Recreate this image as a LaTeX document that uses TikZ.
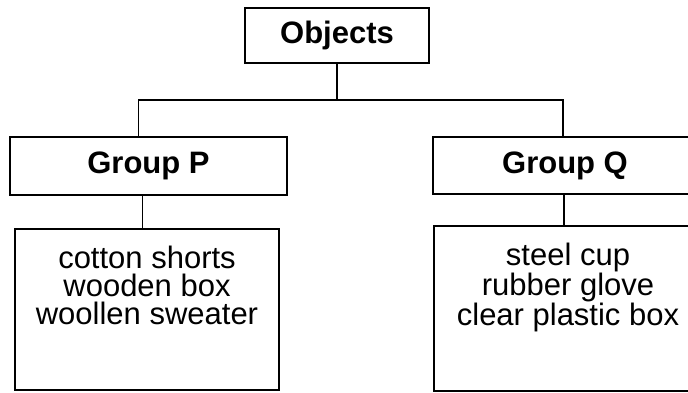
\documentclass[tikz,border=0pt]{standalone}
\usepackage{fontspec}
\setmainfont{Liberation Sans}
\tikzset{
  headbox/.style={draw, line width=1.7pt, inner sep=0pt, font=\fontsize{31}{32}\selectfont\bfseries},
  listbox/.style={draw, line width=1.7pt, inner sep=0pt, font=\fontsize{31}{28}\selectfont},
  link/.style={line width=1.7pt}
}
\newcommand{\itemlist}[2]{\parbox[c][#1][t]{255pt}{\centering\vspace*{17pt}#2}}
\begin{document}
\begin{tikzpicture}[x=1pt,y=-1pt]
  \useasboundingbox (0,0) rectangle (688,393);
  \clip (0,0) rectangle (688,393);
  \node[headbox, minimum width=184pt, minimum height=55pt] (obj) at (337,35.5) {Objects};
  \node[headbox, minimum width=277pt, minimum height=58pt] (gp) at (148.5,166) {Group P};
  \node[headbox, minimum width=264pt, minimum height=57pt] (gq) at (565,165.5) {Group Q};
  \node[listbox, minimum width=264pt] (cp) at (147,309.5) {\itemlist{161pt}{cotton shorts\\wooden box\\woollen sweater}};
  \node[listbox, minimum width=268pt] (cq) at (568,308.5) {\itemlist{165pt}{steel cup\\rubber glove\\clear plastic box}};
  \coordinate (bar) at (0,100);
  \draw[link] (obj.south) -- (obj.south |- bar);
  \draw[link] ([xshift=-10pt]gp.north) |- ([xshift=-2pt]bar -| gq.north) -- ([xshift=-2pt]gq.north);
  \foreach \group/\list/\shiftval in {gp/cp/-6, gq/cq/-1}
    \draw[link] ([xshift=\shiftval pt]\group.south) -- ([xshift=\shiftval pt]\group.south |- \list.north);
\end{tikzpicture}
\end{document}
